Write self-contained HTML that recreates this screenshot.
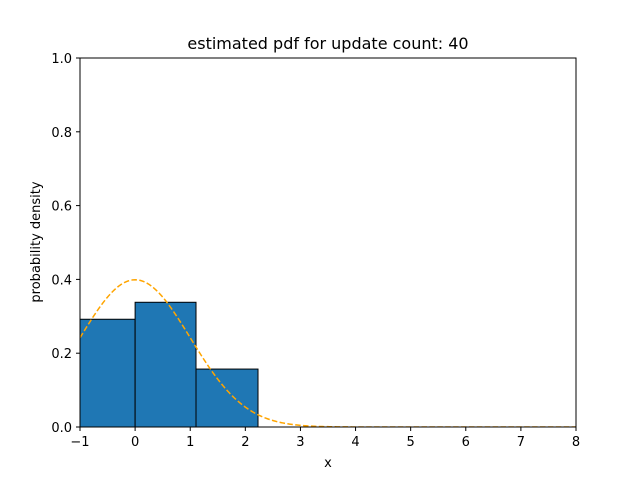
<!DOCTYPE html>
<html><head><meta charset="utf-8"><style>
body{margin:0;background:#fff;font-family:"Liberation Sans","DejaVu Sans",sans-serif}
svg text{font-family:"DejaVu Sans","Liberation Sans",sans-serif}
</style></head><body>
<svg id="chart" width="640" height="480" xmlns="http://www.w3.org/2000/svg">
<defs><clipPath id="clip"><rect x="80" y="58" width="496" height="369"/></clipPath></defs>
<rect width="640" height="480" fill="#fff"/>
<text x="328" y="49" font-size="16" text-anchor="middle">estimated pdf for update count: 40</text>
<g id="bars" clip-path="url(#clip)"></g>
<g id="curve" clip-path="url(#clip)"></g>
<rect x="80" y="58" width="496" height="369" fill="none" stroke="#000" stroke-width="1"/>
<g id="ticks"></g>
<text x="328" y="467" font-size="13" text-anchor="middle">x</text>
<text transform="translate(40,242) rotate(-90)" font-size="13" text-anchor="middle">probability density</text>
</svg>
<script>
const binEdges=[-1.125,0,1.105,2.23];
const binHeights=[0.292,0.338,0.157];
const xTicks=[-1,0,1,2,3,4,5,6,7,8];
const yTicks=[0,0.2,0.4,0.6,0.8,1.0];
const pdfMean=[0];
const pdfStd=[1];
const NS="http://www.w3.org/2000/svg";
const X=v=>80+(v+1)*496/9, Y=v=>427-v*369;
const bars=document.getElementById('bars');
binHeights.forEach((h,i)=>{
 const r=document.createElementNS(NS,'rect');
 r.setAttribute('x',X(binEdges[i]));r.setAttribute('y',Y(h));
 r.setAttribute('width',X(binEdges[i+1])-X(binEdges[i]));r.setAttribute('height',Y(0)-Y(h));
 r.setAttribute('fill','#1f77b4');r.setAttribute('stroke','#000');r.setAttribute('stroke-width','1');
 
 
 bars.appendChild(r);
});
let d='';
for(let k=0;k<=450;k++){const x=-1+k*9/450;const y=Math.exp(-0.5*((x-pdfMean[0])/pdfStd[0])**2)/(pdfStd[0]*Math.sqrt(2*Math.PI));d+=(k?'L':'M')+X(x).toFixed(2)+','+Y(y).toFixed(2);}
const p=document.createElementNS(NS,'path');
p.setAttribute('d',d);p.setAttribute('fill','none');p.setAttribute('stroke','orange');p.setAttribute('stroke-width','1.5');p.setAttribute('stroke-dasharray','5.5,2.4');


document.getElementById('curve').appendChild(p);
const t=document.getElementById('ticks');
xTicks.forEach(v=>{
 const l=document.createElementNS(NS,'line');l.setAttribute('x1',X(v));l.setAttribute('x2',X(v));l.setAttribute('y1',427);l.setAttribute('y2',431);l.setAttribute('stroke','#000');
 
 
 t.appendChild(l);
 const s=document.createElementNS(NS,'text');s.setAttribute('x',X(v));s.setAttribute('y',446);s.setAttribute('font-size','13');s.setAttribute('text-anchor','middle');s.textContent=v<0?'\u2212'+(-v):v;
 
 
 t.appendChild(s);
});
yTicks.forEach(v=>{
 const l=document.createElementNS(NS,'line');l.setAttribute('x1',76);l.setAttribute('x2',80);l.setAttribute('y1',Y(v));l.setAttribute('y2',Y(v));l.setAttribute('stroke','#000');
 
 
 t.appendChild(l);
 const s=document.createElementNS(NS,'text');s.setAttribute('x',72);s.setAttribute('y',Y(v)+5);s.setAttribute('font-size','13');s.setAttribute('text-anchor','end');s.textContent=v.toFixed(1);
 
 
 t.appendChild(s);
});
</script>
</body></html>
